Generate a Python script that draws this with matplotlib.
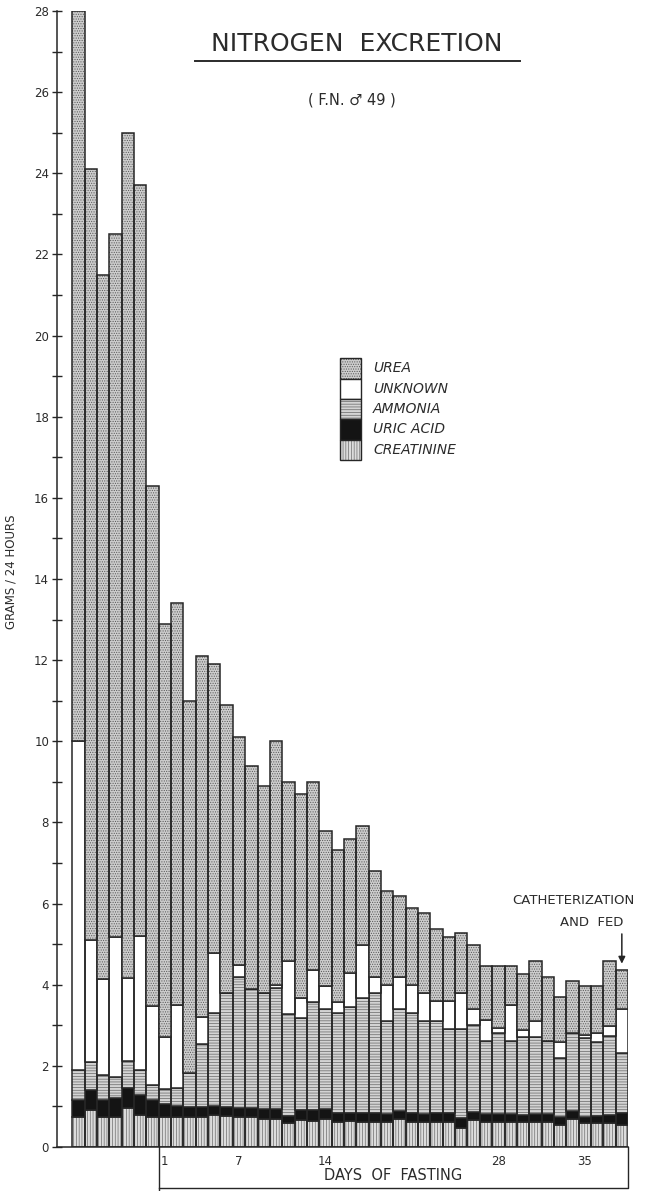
import matplotlib
matplotlib.use("Agg")
import matplotlib.pyplot as plt
from matplotlib.patches import Rectangle
from matplotlib.lines import Line2D
import numpy as np

# ----------------------------
# Data: grams / 24 hours
# 7 pre-fasting days, then fasting days 1..38
# ----------------------------
N_PRE = 7

creatinine = [0.75, 0.90, 0.75, 0.75, 0.96, 0.80, 0.75,
              0.75, 0.73, 0.75, 0.75, 0.80, 0.76, 0.75, 0.73, 0.68, 0.70,
              0.58, 0.67, 0.64, 0.70, 0.62, 0.63, 0.62, 0.62, 0.62, 0.69,
              0.62, 0.62, 0.62, 0.62, 0.47, 0.66, 0.62, 0.62, 0.62, 0.62,
              0.61, 0.62, 0.55, 0.68, 0.58, 0.58, 0.60, 0.54]
uric_acid = [0.41, 0.50, 0.41, 0.45, 0.49, 0.48, 0.41,
             0.31, 0.27, 0.23, 0.23, 0.22, 0.22, 0.22, 0.22, 0.25, 0.23,
             0.19, 0.23, 0.27, 0.24, 0.23, 0.20, 0.21, 0.21, 0.19, 0.20,
             0.21, 0.19, 0.21, 0.21, 0.25, 0.21, 0.19, 0.19, 0.19, 0.18,
             0.20, 0.19, 0.19, 0.20, 0.16, 0.19, 0.20, 0.29]
ammonia = [0.74, 0.70, 0.61, 0.52, 0.67, 0.62, 0.38,
           0.36, 0.46, 0.85, 1.57, 2.29, 2.82, 3.23, 2.95, 2.87, 3.00,
           2.50, 2.28, 2.67, 2.45, 2.46, 2.62, 2.85, 2.97, 2.30, 2.50,
           2.48, 2.30, 2.28, 2.07, 2.18, 2.13, 1.81, 1.99, 1.81, 1.90,
           1.89, 1.81, 1.46, 1.93, 1.94, 1.83, 1.93, 1.49]
unknown = [8.10, 3.00, 2.38, 3.45, 2.05, 3.29, 1.93,
           1.28, 2.03, 0.00, 0.65, 1.48, 0.00, 0.28, 0.00, 0.00, 0.07,
           1.31, 0.49, 0.79, 0.57, 0.27, 0.85, 1.29, 0.38, 0.88, 0.79,
           0.69, 0.68, 0.48, 0.69, 0.89, 0.39, 0.50, 0.13, 0.88, 0.19,
           0.40, 0.00, 0.40, 0.00, 0.07, 0.21, 0.26, 1.07]
urea = [18.00, 19.00, 17.35, 17.33, 20.83, 18.51, 12.83,
        10.20, 9.91, 9.17, 8.90, 7.11, 7.10, 5.62, 5.50, 5.10, 6.00,
        4.42, 5.03, 4.63, 3.84, 3.74, 3.30, 2.93, 2.62, 2.31, 2.00,
        1.89, 1.98, 1.78, 1.59, 1.48, 1.59, 1.35, 1.54, 0.97, 1.38,
        1.48, 1.56, 1.09, 1.27, 1.22, 1.16, 1.59, 0.98]

labeled_days = [1, 7, 14, 28, 35]
y_ticks = list(range(0, 29, 2))

# bottom -> top order, (name, values, face colour, hatch colour, hatch)
layers = [
    ("CREATININE", creatinine, "#dcdcdc", "#6e6e6e", "||||||"),
    ("URIC ACID", uric_acid, "#141414", "#141414", None),
    ("AMMONIA", ammonia, "#d4d4d4", "#666666", "------"),
    ("UNKNOWN", unknown, "white", "white", None),
    ("UREA", urea, "#cdcdcd", "#585858", "......."),
]

EDGE = "#262626"
TEXT = "#2b2b2b"

plt.rcParams["hatch.linewidth"] = 0.5
plt.rcParams["font.family"] = ["DejaVu Sans"]

W_PX, H_PX = 660, 1191
fig = plt.figure(figsize=(W_PX / 100, H_PX / 100), dpi=100)


def fpx(x, y):
    """pixel position -> figure fraction"""
    return x / W_PX, 1 - y / H_PX


# axes: bar width 12.35 px, y=0 at 1147 px, y=28 at 11 px
ax_left, ax_bottom_px, ax_top_px = 56.7, 1147, 11
xmin, xmax = -1.76, len(urea) - 0.5
ax_w = (xmax - xmin) * 12.35
ax = fig.add_axes([ax_left / W_PX, 1 - ax_bottom_px / H_PX,
                   ax_w / W_PX, (ax_bottom_px - ax_top_px) / H_PX])

# ----------------------------
# Stacked bars
# ----------------------------
x = np.arange(len(urea))
bottom = np.zeros(len(urea))
for name, vals, face, hcol, hatch in layers:
    vals = np.array(vals)
    ax.bar(x, vals, width=1.0, bottom=bottom, color=face, hatch=hatch,
           edgecolor=hcol, linewidth=0)
    ax.bar(x, vals, width=1.0, bottom=bottom, fill=False,
           edgecolor=EDGE, linewidth=1.1)
    bottom += vals

ax.set_xlim(xmin, xmax)
ax.set_ylim(0, 28)

for s in ["top", "right"]:
    ax.spines[s].set_visible(False)
for s in ["left", "bottom"]:
    ax.spines[s].set_linewidth(1.1)
    ax.spines[s].set_color(EDGE)

ax.set_yticks(y_ticks)
ax.set_yticklabels([str(v) for v in y_ticks])
ax.set_yticks(range(0, 29), minor=True)
ax.tick_params(axis="y", which="both", direction="inout", length=7,
               width=1, color=EDGE, labelsize=8.5, labelcolor=TEXT, pad=2)

day_pos = [N_PRE + d - 1 for d in labeled_days]
ax.set_xticks(day_pos)
ax.set_xticklabels([str(d) for d in labeled_days])
ax.tick_params(axis="x", length=0, labelsize=8.5, labelcolor=TEXT, pad=6)

# ----------------------------
# Box under the fasting days
# ----------------------------
tr = ax.get_xaxis_transform()
fast_left = N_PRE - 0.5
box_y = -(1188 - ax_bottom_px) / (ax_bottom_px - ax_top_px)
ax.plot([fast_left, fast_left], [0, -0.04], transform=tr, color=EDGE,
        lw=1.0, clip_on=False)
ax.plot([fast_left, xmax, xmax], [box_y, box_y, 0], transform=tr, color=EDGE,
        lw=1.0, clip_on=False)
ax.text((fast_left + xmax) / 2, -(1175 - ax_bottom_px) / (ax_bottom_px - ax_top_px),
        "DAYS  OF  FASTING", transform=tr, ha="center", va="center",
        fontsize=10.5, color=TEXT)

# ----------------------------
# Titles and labels
# ----------------------------
fig.text(*fpx(357, 44), "NITROGEN  EXCRETION", ha="center", va="center",
         fontsize=18, color=TEXT)
fig.add_artist(Line2D([195 / W_PX, 520 / W_PX], [fpx(0, 61)[1]] * 2,
                      color=TEXT, lw=1.4))
fig.text(*fpx(352, 100), "( F.N. \u2642 49 )", ha="center", va="center",
         fontsize=10.5, color=TEXT)
fig.text(*fpx(11, 572), "GRAMS / 24 HOURS", rotation=90, ha="center",
         va="center", fontsize=8.5, color=TEXT)

# catheterization note
fig.text(*fpx(573, 901), "CATHETERIZATION", ha="center", va="center",
         fontsize=9.5, color=TEXT)
fig.text(*fpx(592, 923), "AND  FED", ha="center", va="center",
         fontsize=9.5, color=TEXT)
last = len(urea) - 1
ax.annotate("", xy=(last, bottom[last] + 0.08), xytext=(last, bottom[last] + 0.95),
            arrowprops=dict(arrowstyle="-|>", color=EDGE, lw=1.1,
                            mutation_scale=10))

# ----------------------------
# Legend (stacked swatches)
# ----------------------------
sw_x, sw_top, sw_w, sw_h = 339.5, 358.3, 21.7, 20.3
for i, (name, vals, face, hcol, hatch) in enumerate(reversed(layers)):
    y_top = sw_top + i * sw_h
    fx, fy = fpx(sw_x, y_top + sw_h)
    w, h = sw_w / W_PX, sw_h / H_PX
    fig.add_artist(Rectangle((fx, fy), w, h, transform=fig.transFigure,
                             facecolor=face, hatch=hatch, edgecolor=hcol, lw=0))
    fig.add_artist(Rectangle((fx, fy), w, h, transform=fig.transFigure,
                             fill=False, edgecolor=EDGE, lw=1.0))
    fig.text(*fpx(373, y_top + sw_h / 2), name, ha="left", va="center",
             fontsize=10, style="italic", color=TEXT)

fig.savefig("out.png", dpi=100)
